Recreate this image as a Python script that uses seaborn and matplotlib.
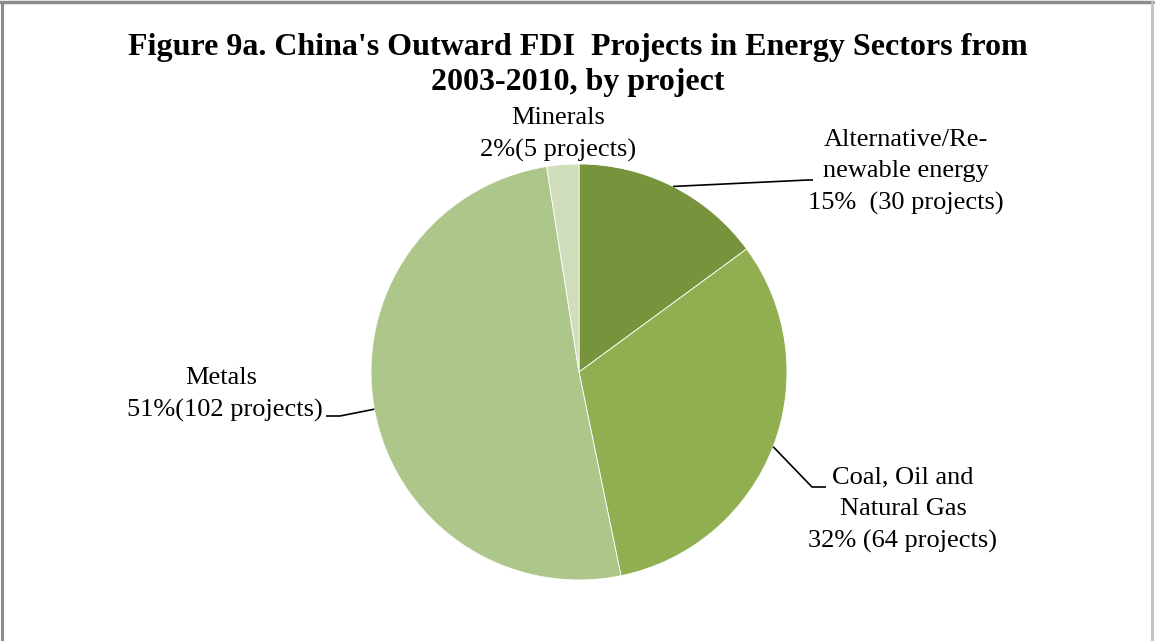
import matplotlib
matplotlib.use("Agg")
import matplotlib.pyplot as plt
from matplotlib.lines import Line2D
import numpy as np
import seaborn as sns

# Project counts by energy sector (2003-2010)
sectors = ["Alternative/Re-\nnewable energy", "Coal, Oil and\nNatural Gas", "Metals", "Minerals"]
projects = [30, 64, 102, 5]
pct_labels = ["15%  (30 projects)", "32% (64 projects)", "51%(102 projects)", "2%(5 projects)"]
colors = ["#77933C", "#8FAF50", "#ADC68A", "#CFDDBA"]

sns.set_theme(style="white")
plt.rcParams["font.family"] = ["Liberation Serif", "DejaVu Serif"]
plt.rcParams["text.color"] = "black"

W, H = 1155, 641
fig = plt.figure(figsize=(W / 100, H / 100), dpi=100)
fig.patch.set_facecolor("white")

# Pie placement in pixels (centre, radius)
cx, cy, r = 579, 372, 208
ax = fig.add_axes([(cx - r) / W, (H - cy - r) / H, 2 * r / W, 2 * r / H])

palette = sns.color_palette(colors)
wedges, _ = ax.pie(projects, colors=palette, startangle=90, counterclock=False,
                   radius=1, wedgeprops=dict(edgecolor="white", linewidth=0.6))
ax.set_xlim(-1, 1)
ax.set_ylim(-1, 1)
ax.set_aspect("equal")
ax.axis("off")


def px2d(px, py):
    return ((px - cx) / r, (cy - py) / r)


def edge_point(w):
    ang = np.deg2rad((w.theta1 + w.theta2) / 2)
    return np.cos(ang), np.sin(ang)


fs = 19
# Leader lines: pie edge -> elbow -> end
leaders = {
    0: [px2d(808, 180), px2d(813, 180)],
    1: [px2d(812, 487), px2d(826, 487)],
    2: [px2d(340, 416), px2d(326, 416)],
}
for i, pts in leaders.items():
    ex, ey = edge_point(wedges[i])
    xs = [ex] + [p[0] for p in pts]
    ys = [ey] + [p[1] for p in pts]
    ax.plot(xs, ys, color="black", lw=1.2, clip_on=False, solid_capstyle="butt")


def label(px, py, s):
    x, y = px2d(px, py)
    ax.text(x, y, s, ha="center", va="center", fontsize=fs, color="black",
            linespacing=1.55, clip_on=False)


label(906, 172, sectors[0] + "\n" + pct_labels[0])
label(903, 510, sectors[1] + "\n" + pct_labels[1])
label(221, 378, sectors[2])
label(225, 410, pct_labels[2])
label(558, 118, sectors[3])
label(558, 150, pct_labels[3])

fig.text(0.5, 1 - 65 / H,
         "Figure 9a. China's Outward FDI  Projects in Energy Sectors from\n2003-2010, by project",
         ha="center", va="center", fontsize=23, fontweight="bold", linespacing=1.26,
         color="black")

# Frame lines around the chart area
fig.add_artist(Line2D([1.5 / W, 1.5 / W], [0, 1 - 1.5 / H], color="#8C8C8C", lw=2.2,
                      transform=fig.transFigure))
fig.add_artist(Line2D([0, 1 - 2 / W], [1 - 2 / H, 1 - 2 / H], color="#8C8C8C", lw=2.5,
                      transform=fig.transFigure))
fig.add_artist(Line2D([1 - 3 / W, 1 - 3 / W], [0, 1 - 2 / H], color="#C0C0C0", lw=2.0,
                      transform=fig.transFigure))

fig.savefig("out.png", dpi=100, facecolor="white")
